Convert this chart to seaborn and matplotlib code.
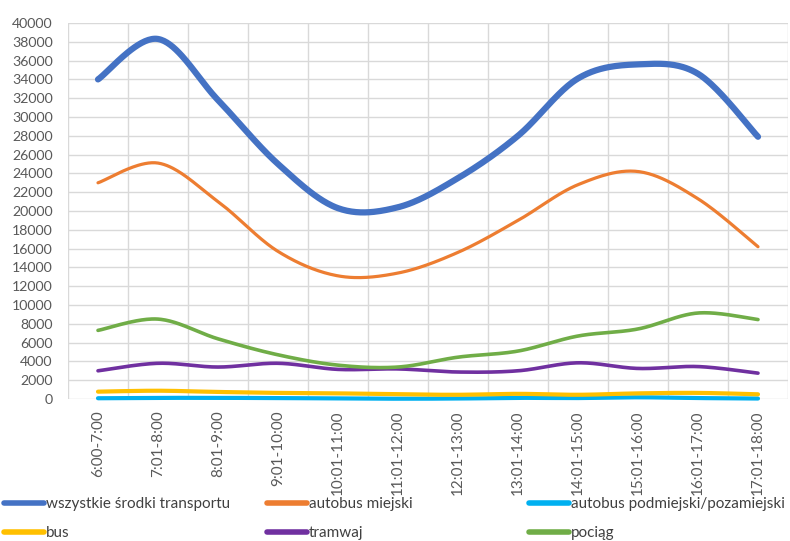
import numpy as np
import pandas as pd
import matplotlib
matplotlib.use("Agg")
import matplotlib.pyplot as plt
import seaborn as sns
from matplotlib.lines import Line2D

categories = ["6:00-7:00", "7:01-8:00", "8:01-9:00", "9:01-10:00", "10:01-11:00",
              "11:01-12:00", "12:01-13:00", "13:01-14:00", "14:01-15:00",
              "15:01-16:00", "16:01-17:00", "17:01-18:00"]
wszystkie = [34000, 38300, 31800, 25000, 20300, 20400, 23500, 28000, 34100, 35600, 34600, 27900]
autobus_miejski = [23000, 25100, 21000, 15700, 13100, 13400, 15600, 19000, 22800, 24200, 21300, 16200]
podmiejski = [80, 120, 120, 100, 60, 30, 50, 120, 100, 180, 100, 50]
bus = [780, 880, 750, 650, 600, 500, 450, 550, 450, 600, 650, 500]
tramwaj = [3000, 3800, 3400, 3800, 3150, 3200, 2870, 3000, 3850, 3250, 3450, 2750]
pociag = [7300, 8500, 6400, 4700, 3600, 3400, 4450, 5100, 6700, 7450, 9150, 8450]

series_names = ["wszystkie środki transportu", "autobus miejski",
                "autobus podmiejski/pozamiejski", "bus", "tramwaj", "pociąg"]
series_values = [wszystkie, autobus_miejski, podmiejski, bus, tramwaj, pociag]
colors = ["#4472C4", "#ED7D31", "#00B0F0", "#FFC000", "#7030A0", "#70AD47"]
widths = [4.5, 2.3, 3.0, 3.0, 2.6, 2.6]


def smooth(values, n=40):
    """Excel-style smoothed line (cubic Bezier through the data points)."""
    y = np.asarray(values, float)
    x = np.arange(len(y)) + 0.5
    P = np.column_stack([x, y])
    out = []
    m = len(P)
    for i in range(m - 1):
        p0 = P[i - 1] if i > 0 else P[i]
        p3 = P[i + 2] if i + 2 < m else P[i + 1]
        a, d = P[i], P[i + 1]
        b = a + (d - p0) / 6.0
        c = d - (p3 - a) / 6.0
        t = np.linspace(0, 1, n, endpoint=(i == m - 2))[:, None]
        seg = ((1 - t) ** 3) * a + 3 * ((1 - t) ** 2) * t * b + 3 * (1 - t) * t ** 2 * c + t ** 3 * d
        out.append(seg)
    out = np.vstack(out)
    return out[:, 0], out[:, 1]


sns.set_theme(style="white")
plt.rcParams["font.family"] = ["Lato", "DejaVu Sans"]

fig = plt.figure(figsize=(7.9, 5.41), dpi=100)
W, H = 790, 541
ax = fig.add_axes([68 / W, 1 - 399 / H, (788 - 68) / W, (399 - 23) / H])

for name, vals, col, lw in zip(series_names, series_values, colors, widths):
    xs, ys = smooth(vals)
    df = pd.DataFrame({"x": xs, "y": ys})
    sns.lineplot(data=df, x="x", y="y", ax=ax, color=col, linewidth=lw,
                 sort=False, estimator=None, solid_capstyle="round")
for ln in ax.get_lines():
    ln.set_clip_on(False)

ax.set_xlim(0, len(categories))
ax.set_ylim(0, 40000)
ax.set_xticks(np.arange(len(categories)) + 0.5)
ax.set_xticklabels(categories, rotation=90, color="#595959", fontsize=11)
ax.set_xticks(np.arange(len(categories) + 1), minor=True)
ax.set_yticks(np.arange(0, 40001, 2000))
ax.set_yticklabels([str(v) for v in range(0, 40001, 2000)], color="#595959", fontsize=10.2)
ax.tick_params(axis="both", which="both", length=0)
ax.tick_params(axis="x", which="major", pad=8)
ax.tick_params(axis="y", pad=11)
ax.set_xlabel("")
ax.set_ylabel("")
ax.grid(False)
ax.yaxis.grid(True, color="#d9d9d9", linewidth=1.0)
ax.xaxis.grid(True, which="minor", color="#d9d9d9", linewidth=1.0)
for s in ax.spines.values():
    s.set_visible(False)
ax.set_axisbelow(True)
for lab in ax.get_xticklabels():
    lab.set_verticalalignment("top")

handles = [Line2D([0], [0], color=c, lw=4.0, solid_capstyle="round") for c in colors]
col_x = [4, 267, 529]
for k in range(3):
    idx = [k, k + 3]
    leg = fig.legend([handles[i] for i in idx], [series_names[i] for i in idx],
                     loc="upper left", bbox_to_anchor=(col_x[k] / W, 1 - 497 / H),
                     frameon=False, ncol=1, fontsize=11, handlelength=2.6,
                     handletextpad=0.15, labelspacing=1.0, borderaxespad=0,
                     borderpad=0)
    for t in leg.get_texts():
        t.set_color("#404040")

fig.savefig("out.png", dpi=100)
